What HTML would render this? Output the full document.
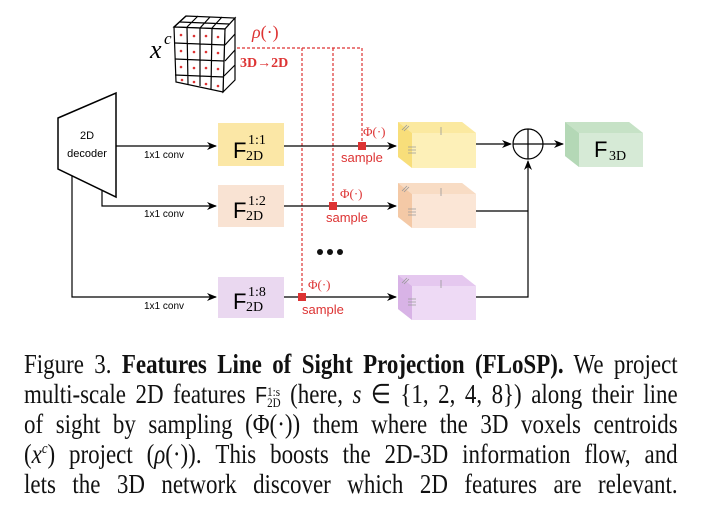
<!DOCTYPE html>
<html><head><meta charset="utf-8"><style>
body{margin:0;background:#fff;width:709px;height:517px;overflow:hidden;position:relative;font-family:"Liberation Sans",sans-serif}
.cap{position:absolute;left:24px;width:769px;font-family:"Liberation Serif",serif;font-size:27px;color:#111;text-align:justify;text-align-last:justify;white-space:nowrap;line-height:30px;height:30px;transform:scaleX(0.85);transform-origin:0 0}
</style></head><body>
<svg width="709" height="340" style="position:absolute;left:0;top:0" font-family="Liberation Sans, sans-serif">
<defs><marker id="a" markerWidth="10" markerHeight="8" refX="9" refY="4" orient="auto" markerUnits="userSpaceOnUse"><path d="M0,0 L10,4 L0,8 L3,4z" fill="#000"/></marker></defs>
<g stroke="#000" stroke-width="1.2" fill="#fff">
<path d="M174,27 L186,16 L235,18 L225,29 Z"/>
<path d="M225,29 L235,18 L235,80 L223,92 Z"/>
<path d="M174,27 L225,29 L223,92 L176,82 Z"/>
<path d="M187,27 L188,84 M200,28 L200,86 M212,28 L211,89 M175,43 L225,45 M175,59 L224,61 M175,75 L224,77 M225,45 L235,34 M225,61 L235,50 M224,76 L235,65 M186,16 L174,27 M198,16 L187,27 M210,17 L200,28 M222,17 L212,28 M180,22 L229,24" fill="none"/>
</g>
<g fill="#d33">
<circle cx="181" cy="35" r="1.3"/><circle cx="194" cy="36" r="1.3"/><circle cx="206" cy="36" r="1.3"/><circle cx="218" cy="37" r="1.3"/>
<circle cx="181" cy="51" r="1.3"/><circle cx="194" cy="52" r="1.3"/><circle cx="206" cy="52" r="1.3"/><circle cx="218" cy="53" r="1.3"/>
<circle cx="181" cy="67" r="1.3"/><circle cx="194" cy="68" r="1.3"/><circle cx="206" cy="68" r="1.3"/><circle cx="218" cy="69" r="1.3"/>
<circle cx="182" cy="80" r="1.3"/><circle cx="194" cy="82" r="1.3"/><circle cx="206" cy="84" r="1.3"/><circle cx="218" cy="86" r="1.3"/>
</g>
<text x="150" y="58" font-family="Liberation Serif,serif" font-style="italic" font-size="26">x</text>
<text x="164" y="44" font-family="Liberation Serif,serif" font-style="italic" font-size="17">c</text>
<text x="252" y="38" fill="#d33" font-family="Liberation Serif,serif" font-size="18"><tspan font-style="italic">ρ</tspan>(·)</text>
<text x="240" y="67" fill="#d33" font-family="Liberation Serif,serif" font-weight="bold" font-size="14">3D→2D</text>
<g stroke="#d33" stroke-width="1.2" stroke-dasharray="3,2" fill="none">
<path d="M237,48 L362,48 L362,146"/><path d="M302,48 L302,297"/><path d="M333,48 L333,206"/>
</g>
<path d="M58,118 L116,93 L116,197 L58,169 Z" fill="#fff" stroke="#000" stroke-width="1.5"/>
<text x="87" y="139" font-size="11" text-anchor="middle">2D</text>
<text x="87" y="157" font-size="11" text-anchor="middle">decoder</text>
<g stroke="#000" stroke-width="1.2" fill="none">
<path d="M116,146 L216,146" marker-end="url(#a)"/>
<path d="M102,191 L102,206 L216,206" marker-end="url(#a)"/>
<path d="M72,176 L72,297 L216,297" marker-end="url(#a)"/>
<path d="M284,146 L396,146" marker-end="url(#a)"/>
<path d="M284,206 L396,206" marker-end="url(#a)"/>
<path d="M284,297 L396,297" marker-end="url(#a)"/>
<path d="M476,144 L511,144" marker-end="url(#a)"/>
<path d="M543,144 L563,144" marker-end="url(#a)"/>
<path d="M476,211 L528,211 M476,297 L528,297 L528,161" marker-end="url(#a)"/>
</g>
<circle cx="528" cy="144" r="15" fill="none" stroke="#000" stroke-width="1.2"/>
<path d="M513,144 L543,144 M528,129 L528,159" stroke="#000" stroke-width="1.2"/>
<g font-size="10" text-anchor="middle"><text x="164" y="158">1x1 conv</text><text x="164" y="217">1x1 conv</text><text x="164" y="309">1x1 conv</text></g>
<rect x="218" y="123" width="66" height="43" fill="#fbe7a6"/>
<rect x="218" y="185" width="66" height="42" fill="#f9e3d3"/>
<rect x="218" y="277" width="66" height="41" fill="#ead8f0"/>
<g font-size="22"><text x="233" y="158">F</text><text x="233" y="218">F</text><text x="233" y="309">F</text></g>
<g font-family="Liberation Serif,serif" font-size="14"><text x="248" y="144">1:1</text><text x="246" y="160">2D</text>
<text x="248" y="205">1:2</text><text x="246" y="220">2D</text>
<text x="248" y="296">1:8</text><text x="246" y="311">2D</text></g>
<g fill="#d33"><rect x="358" y="142" width="8" height="8"/><rect x="329" y="202" width="8" height="8"/><rect x="298" y="293" width="8" height="8"/></g>
<g fill="#d33" font-size="13"><text x="341" y="162">sample</text><text x="326" y="222">sample</text><text x="302" y="314">sample</text></g>
<g fill="#d33" font-family="Liberation Serif,serif" font-size="13"><text x="363" y="136">Φ(·)</text><text x="340" y="198">Φ(·)</text><text x="308" y="289">Φ(·)</text></g>
<g fill="#111"><circle cx="320" cy="252" r="3"/><circle cx="330" cy="252" r="3"/><circle cx="340" cy="252" r="3"/></g>
<g>
<path d="M398,122 L462,122 L476,133 L476,168 L412,168 L398,157Z" fill="#fdf0b8"/><path d="M398,122 L412,133 L412,168 L398,157Z" fill="#f8de7a"/><path d="M398,122 L462,122 L476,133 L412,133Z" fill="#fbe9a0"/>
<path d="M398,183 L462,183 L476,194 L476,228 L412,228 L398,217Z" fill="#fbe6d6"/><path d="M398,183 L412,194 L412,228 L398,217Z" fill="#f4c9a6"/><path d="M398,183 L462,183 L476,194 L412,194Z" fill="#f8dcc4"/>
<path d="M398,275 L462,275 L476,286 L476,320 L412,320 L398,309Z" fill="#eedaf5"/><path d="M398,275 L412,286 L412,320 L398,309Z" fill="#d8b3e6"/><path d="M398,275 L462,275 L476,286 L412,286Z" fill="#e5c8ef"/>
<path d="M565,122 L629,122 L643,133 L643,167 L579,167 L565,156Z" fill="#d6ead6"/><path d="M565,122 L579,133 L579,167 L565,156Z" fill="#b4d8b6"/><path d="M565,122 L629,122 L643,133 L579,133Z" fill="#c6e2c6"/>
</g>
<g stroke="#999" stroke-width="0.8"><path d="M441,127 L441,135 M408,147 L416,147 M408,150 L416,150 M408,153 L416,153 M402,130 L407,125 M404,131 L409,126"/>
<path d="M441,188 L441,196 M408,209 L416,209 M408,212 L416,212 M408,215 L416,215 M402,191 L407,186 M404,192 L409,187"/>
<path d="M441,280 L441,288 M408,299 L416,299 M408,302 L416,302 M408,305 L416,305 M402,283 L407,278 M404,284 L409,279"/></g>
<text x="594" y="157" font-size="22">F</text><text x="609" y="160" font-family="Liberation Serif,serif" font-size="14">3D</text>
</svg>
<div class="cap" style="top:349px">Figure 3. <b>Features Line of Sight Projection (FLoSP).</b> We project</div>
<div class="cap" style="top:379px">multi-scale 2D features <span style="font-family:'Liberation Sans',sans-serif;font-size:23px">F</span><span style="display:inline-block;vertical-align:-4px;font-size:13px;line-height:11px">1:s<br>2D</span> (here, <i>s</i> ∈ {1, 2, 4, 8}) along their line</div>
<div class="cap" style="top:409px">of sight by sampling (Φ(·)) them where the 3D voxels centroids</div>
<div class="cap" style="top:439px">(<i>x</i><span style="font-size:15px;vertical-align:10px;line-height:0"><i>c</i></span>) project (<i>ρ</i>(·)). This boosts the 2D-3D information flow, and</div>
<div class="cap" style="top:469px">lets the 3D network discover which 2D features are relevant.</div>
</body></html>
